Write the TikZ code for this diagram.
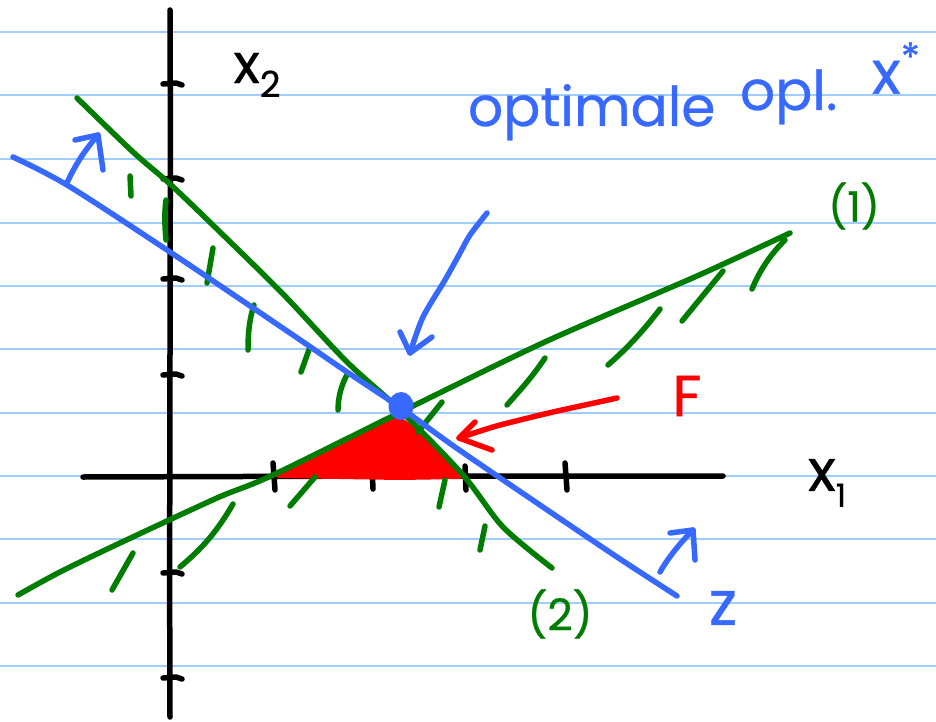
\documentclass[tikz,border=0pt]{standalone}
\usepackage{fontspec}
\setmainfont{Poppins}[FakeBold=0.6]
\usetikzlibrary{shapes.geometric}
\definecolor{rulec}{RGB}{160,205,255}
\definecolor{pblue}{RGB}{55,105,255}
\definecolor{pgreen}{RGB}{0,125,0}
\definecolor{pred}{RGB}{255,0,0}
\tikzset{
  ink/.style={line width=5.5pt, line cap=round, line join=round},
  axisline/.style={ink, draw=black},
  gline/.style={ink, draw=pgreen},
  bline/.style={ink, draw=pblue},
  rline/.style={ink, draw=pred},
  ruled/.style={line width=2pt, draw=rulec},
  lbl/.style={inner sep=0pt, outer sep=0pt},
}
\begin{document}
\begin{tikzpicture}[x=1pt,y=-1pt]
\useasboundingbox (0,0) rectangle (936,722);
\fill[white] (0,0) rectangle (936,722);
% ruled paper
\foreach \yy in {32,95.5,159,222.5,286,349,412.5,476,539,602.5,666}
  \draw[ruled] (0,\yy) -- (936,\yy);

% axes
\draw[axisline] (170,10) .. controls (171,200) and (169,500) .. (170,717);
\draw[axisline] (83,477) -- (400,476) -- (723,476);
\foreach \yy in {83,178,278,374,572,677}
  \draw[axisline] (163,\yy+1) -- (176,\yy) -- (182,\yy+2);
\foreach \xx in {273,565}
  \draw[axisline] (\xx,463) -- (\xx+1,476) -- (\xx+2,490);
\draw[axisline] (372,466) -- (373,489);
\draw[axisline] (465,466) -- (466,490);

% feasible region F
\filldraw[fill=pred, draw=pred, line width=4pt, line join=round]
  (278,476) -- (330,452) -- (398,418) -- (420,432) -- (460,477) -- (400,478) -- cycle;

% constraint (1)
\draw[gline] plot[smooth, tension=0.5] coordinates {(18,595) (60,572) (120,543) (217,498) (273,475) (413,406) (547,341) (697,276) (790,233)};
\draw[gline] (785,240) .. controls (770,255) and (760,270) .. (752,289);
\draw[gline] (723,271) -- (682,321);
\draw[gline] (660,309) .. controls (640,335) and (625,350) .. (608,365);
\draw[gline] (545,358) .. controls (530,380) and (520,390) .. (507,405);
\draw[gline] (442,402) -- (418,432);
\draw[gline] (315,477) -- (290,506);
\draw[gline] (233,504) .. controls (215,535) and (200,550) .. (180,567);
\draw[gline] (133,553) -- (112,590);

% constraint (2)
\draw[gline] plot[smooth, tension=0.5] coordinates {(77,98) (133,152) (170,184) (220,232) (283,294) (347,362) (400,410) (463,475) (503,527) (552,568)};
\draw[gline] (130,176) -- (131,196);
\draw[gline] (166,200) .. controls (164,215) and (165,228) .. (166,240);
\draw[gline] (213,248) -- (207,283);
\draw[gline] (254,305) .. controls (249,320) and (248,335) .. (248,350);
\draw[gline] (310,347) -- (301,372);
\draw[gline] (348,373) .. controls (341,385) and (338,398) .. (338,410);
\draw[gline] (445,480) -- (439,507);
\draw[gline] (485,526) -- (480,550);

% objective line z
\draw[bline] plot[smooth, tension=0.5] coordinates {(13,157) (67,185) (167,250) (290,333) (347,372) (401,408) (455,447) (537,503) (617,557) (677,596)};
% direction arrows of z
\draw[bline] (67,183) .. controls (75,165) and (85,150) .. (98,135);
\draw[bline] (75,140) -- (98,135) -- (103,170);
\draw[bline] (660,572) .. controls (668,558) and (680,543) .. (693,530);
\draw[bline] (670,533) -- (693,530) -- (695,560);

% optimum
\node[ellipse, fill=pblue, inner sep=0pt, minimum width=25pt, minimum height=28pt] (opt) at (401,406) {};
\coordinate (opttip) at (410,353);
\draw[bline] plot[smooth] coordinates {(487,213) (470,235) (460,253) (445,280) (423,317) (410,353)};
\draw[bline] (400,332) -- (opttip) -- (432,337);

% arrow to F
\coordinate (ftip) at (459,438);
\draw[rline] plot[smooth] coordinates {(617,398) (585,405) (553,412) (520,420) (493,427) (459,438)};
\draw[rline] (475,422) -- (ftip) -- (492,450);

% labels
\node[lbl, anchor=center] (x2) at (257,75) {\fontsize{55}{60}\selectfont x\raisebox{-14pt}{\fontsize{36}{40}\selectfont 2}};
\node[lbl, anchor=center] (x1) at (827,483) {\fontsize{58}{60}\selectfont x\raisebox{-16pt}{\fontsize{32}{36}\selectfont 1}};
\node[lbl, pblue, anchor=base west] (opla) at (468,126) {\fontsize{55}{58}\selectfont optimale};
\node[lbl, pblue, anchor=base west] (oplb) at (740,110) {\fontsize{55}{58}\selectfont opl.};
\node[lbl, pblue, anchor=center] (xs) at (896,68) {\fontsize{60}{60}\selectfont x\raisebox{22pt}{\fontsize{40}{40}\selectfont *}};
\node[lbl, pgreen, anchor=center] (l1) at (854,206) {\fontsize{42}{45}\selectfont (1)};
\node[lbl, pgreen, anchor=center] (l2) at (560,614) {\fontsize{44}{45}\selectfont (2)};
\node[lbl, pblue, anchor=center] (lz) at (723,608) {\fontsize{62}{62}\selectfont z};
\node[lbl, pred, anchor=center] (lF) at (687,396) {\fontsize{58}{60}\selectfont F};
\end{tikzpicture}
\end{document}
